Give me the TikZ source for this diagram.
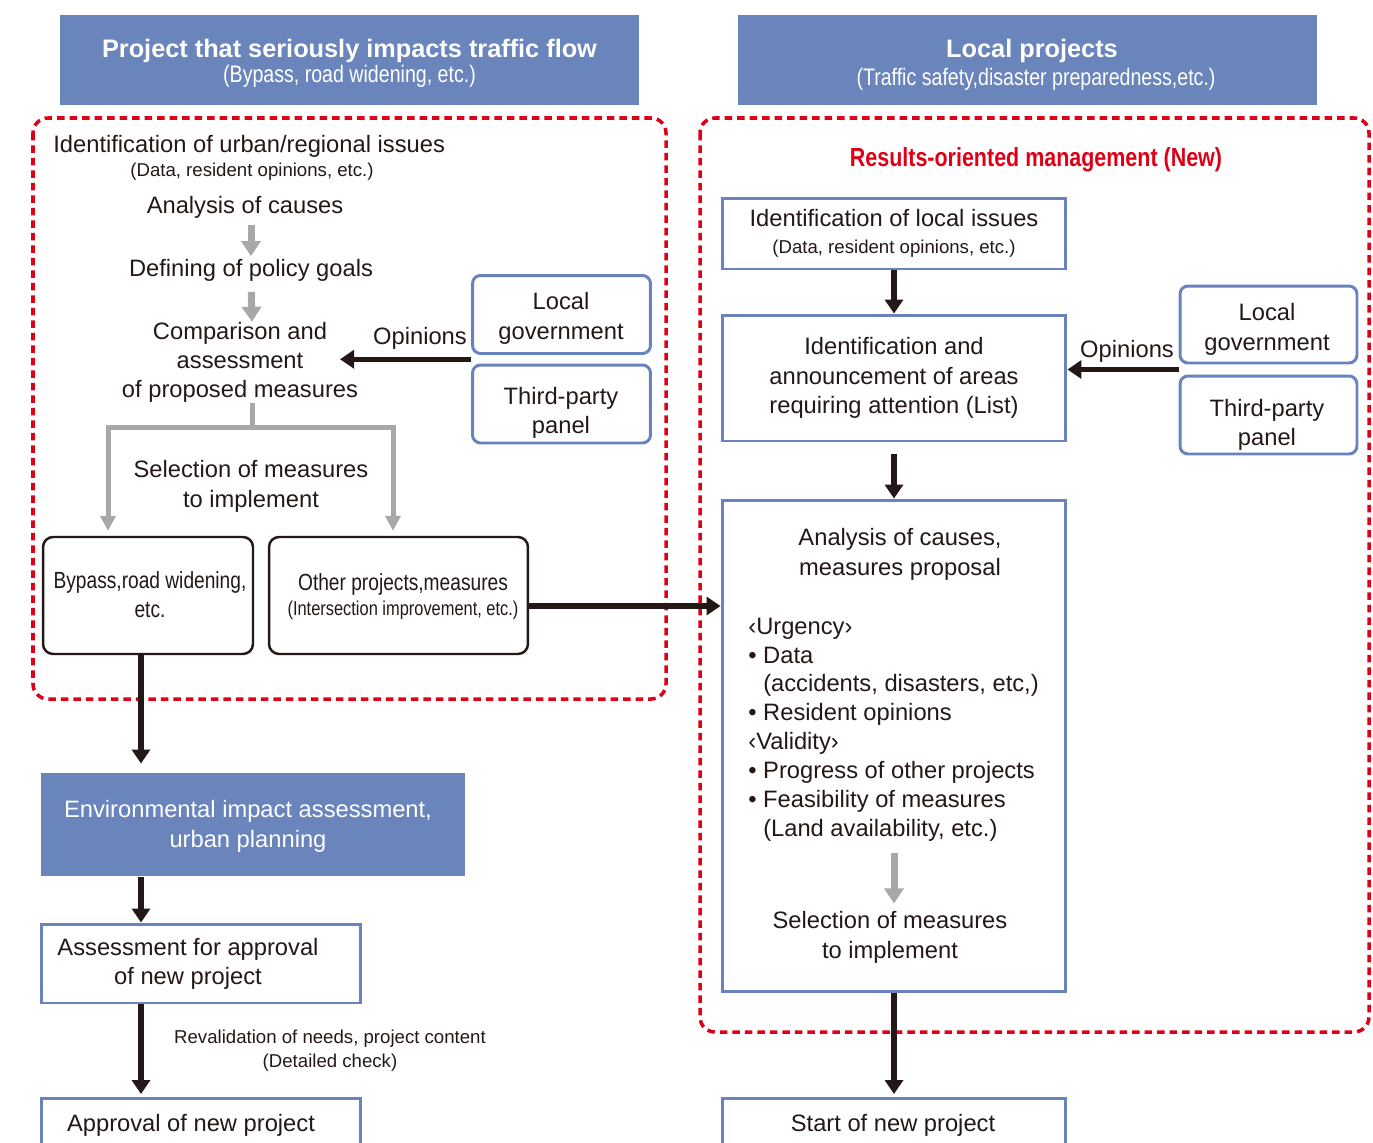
\documentclass[tikz,border=0pt]{standalone}
\usepackage{fontspec}
\setmainfont{Liberation Sans}
\newfontfamily\narrowfont[FakeStretch=0.82]{Liberation Sans}
\usetikzlibrary{arrows.meta,calc}

\definecolor{hdrblue}{RGB}{106,132,188}
\definecolor{lineblue}{RGB}{104,131,190}
\definecolor{frred}{RGB}{222,0,22}
\definecolor{arrgray}{RGB}{168,168,168}
\definecolor{txtblack}{RGB}{35,24,21}

\newcommand{\txtfont}{\fontsize{13.5}{16.7}\selectfont}
\newcommand{\txtsmall}{\fontsize{10.6}{13.4}\selectfont}
\newcommand{\txtnarrow}{\narrowfont\fontsize{13.3}{16.5}\selectfont}

\begin{document}
\begin{tikzpicture}[x=0.02cm, y=-0.02cm,
	txt/.style={font=\txtfont, text=txtblack, align=center, inner sep=0pt, yshift=-0.05cm},
	smalltxt/.style={font=\txtsmall, text=txtblack, align=center, inner sep=0pt, yshift=-0.05cm},
	header/.style={fill=hdrblue, minimum width=11.58cm, minimum height=1.8cm, inner sep=0pt},
	hdrtitle/.style={font=\fontsize{14.4}{17}\selectfont\bfseries, text=white, inner sep=0pt, yshift=-0.05cm},
	hdrsub/.style={font=\narrowfont\fontsize{13.6}{16}\selectfont, text=white, inner sep=0pt, yshift=-0.05cm},
	bluebox/.style={draw=lineblue, line width=1.7pt, fill=white, inner sep=0pt, align=center, font=\txtfont, text=txtblack},
	panelbox/.style={bluebox, rounded corners=0.16cm, minimum width=3.56cm, minimum height=1.56cm},
	blackbox/.style={draw=txtblack, line width=1.4pt, rounded corners=0.2cm, minimum height=2.34cm, inner sep=0pt, align=center, font=\txtnarrow, text=txtblack},
	frame/.style={draw=frred, line width=2pt, dash pattern=on 0.15cm off 0.1cm, rounded corners=0.3cm},
	blackarrow/.style={draw=txtblack, line width=0.11cm, -{Triangle[length=0.28cm, width=0.36cm]}},
	grayarrow/.style={draw=arrgray, line width=0.14cm, -{Triangle[length=0.3cm, width=0.38cm]}},
	treearrow/.style={draw=arrgray, line width=0.1cm, -{Triangle[length=0.3cm, width=0.3cm]}},
]
	\useasboundingbox (0, 0) rectangle (1373, 1143);
	\clip (0, 0) rectangle (1373, 1143);

	% headers
	\node[header] (hdrL) at (349.5, 60) {};
	\node[header] (hdrR) at (1027.5, 60) {};
	\node[hdrtitle] (titleL) at (349.5, 48) {Project that seriously impacts traffic flow};
	\node[hdrsub] (subL) at (349.5, 74) {(Bypass, road widening, etc.)};
	\node[hdrtitle] (titleR) at (1032, 48) {Local projects};
	\node[hdrsub] (subR) at (1036, 77) {(Traffic safety,disaster preparedness,etc.)};

	% dashed areas
	\draw[frame] (33, 118) rectangle (666, 699);
	\draw[frame] (700, 118) rectangle (1369, 1032);

	% left side
	\node[txt, anchor=west] (urban) at (53, 144) {Identification of urban/regional issues};
	\node[smalltxt] (urbandata) at (252, 169) {(Data, resident opinions, etc.)};
	\node[txt] (anc) at (245, 205) {Analysis of causes};
	\node[txt] (pol) at (251, 268) {Defining of policy goals};
	\node[txt] (comp) at (240, 360) {Comparison and\\assessment\\of proposed measures};
	\node[txt] (selL) at (251, 484) {Selection of measures\\to implement};

	\node[panelbox] (locgovL) at (561.5, 314.5) {};
	\node[panelbox] (thirdL) at (561.5, 404) {};
	\node[txt] (locgovLtxt) at (561, 316) {Local\\government};
	\node[txt] (thirdLtxt) at (561, 410.5) {Third-party\\panel};
	\node[txt] (opinL) at (420, 336) {Opinions};
	\coordinate (opL) at ($(locgovL.south west)!0.5!(thirdL.north west)$);
	\coordinate (compR) at (340, 357);

	\node[blackbox, minimum width=4.2cm] (bypass) at (148, 595.5) {};
	\node[txt, font=\txtnarrow] (bypasstxt) at (150, 592.5) {Bypass,road widening,\\etc.};
	\node[blackbox, minimum width=5.18cm] (other) at (398.5, 595.5) {};
	\node[txt, font=\txtnarrow] (othertxt) at (403, 594)
		{Other projects,measures\\[-2pt]{\narrowfont\fontsize{11.4}{14}\selectfont(Intersection improvement, etc.)}};

	\node[bluebox, draw=none, fill=hdrblue, minimum width=8.48cm, minimum height=2.06cm] (env) at (253, 824.5) {};
	\node[txt, text=white] (envtxt) at (248, 824) {Environmental impact assessment,\\urban planning};
	\node[bluebox, minimum width=6.4cm, minimum height=1.58cm] (assess) at (201, 963.5) {};
	\node[txt] (assesstxt) at (188, 961.5) {Assessment for approval\\of new project};
	\node[smalltxt] (reval) at (330, 1048) {Revalidation of needs, project content\\(Detailed check)};
	\node[bluebox, anchor=north, minimum width=6.4cm, minimum height=2cm] (approval) at (201, 1097) {};
	\node[txt] (approvaltxt) at (191, 1123) {Approval of new project};

	\draw[grayarrow, shorten <=0.12cm, shorten >=0.06cm] (anc.south -| pol.north) -- (pol.north);
	\draw[grayarrow, shorten <=0.2cm] (pol.south) -- ([xshift=0.24cm]comp.north);
	\draw[treearrow, shorten >=0.1cm] ([xshift=0.24cm]comp.south) -- ++(0, 24) -| ([xshift=-0.8cm]bypass.north);
	\draw[treearrow, shorten >=0.1cm] ([xshift=0.24cm]comp.south) -- ++(0, 24) -| ([xshift=-0.11cm]other.north);
	\draw[blackarrow] (opL) -- (opL -| compR);
	\draw[blackarrow, shorten >=0.16cm] ([xshift=-0.14cm]bypass.south) -- ([xshift=-0.14cm]bypass.south |- env.north);
	\draw[blackarrow] ([xshift=-1.2cm]env.south -| assess.north) -- ([xshift=-1.2cm]assess.north);
	\draw[blackarrow, shorten >=0.06cm] ([xshift=-1.2cm]assess.south) -- ([xshift=-1.2cm]approval.north);

	% right side
	\node[font=\narrowfont\fontsize{14.9}{17}\selectfont\bfseries, text=frred, inner sep=0pt, yshift=-0.05cm] (results) at (1036, 157)
		{Results-oriented management (New)};
	\node[bluebox, minimum width=6.88cm, minimum height=1.42cm] (issuesR) at (894, 233.5)
		{Identification of local issues\\[-1pt]{\txtsmall(Data, resident opinions, etc.)}};
	\node[bluebox, minimum width=6.88cm, minimum height=2.52cm] (areas) at (894, 378)
		{Identification and\\announcement of areas\\requiring attention (List)};
	\node[panelbox, minimum width=3.54cm, minimum height=1.54cm] (locgovR) at (1268.5, 324.5) {};
	\node[panelbox, minimum width=3.54cm] (thirdR) at (1268.5, 415) {};
	\node[txt] (locgovRtxt) at (1267, 327) {Local\\government};
	\node[txt] (thirdRtxt) at (1267, 422.5) {Third-party\\panel};
	\node[txt] (opinR) at (1127, 349) {Opinions};
	\coordinate (opR) at ($(locgovR.south west)!0.5!(thirdR.north west)$);

	\node[bluebox, minimum width=6.88cm, minimum height=9.84cm] (analysis) at (894, 746) {};
	\node[txt] (ancR) at (900, 552) {Analysis of causes,\\measures proposal};
	\node[txt, font=\fontsize{13.5}{16.4}\selectfont, align=left, anchor=west] (crit) at (748, 727)
		{‹Urgency›\\• Data\\\hphantom{• }(accidents, disasters, etc,)\\• Resident opinions\\‹Validity›\\%
		• Progress of other projects\\• Feasibility of measures\\\hphantom{• }(Land availability, etc.)};
	\node[txt] (selR) at (890, 935) {Selection of measures\\to implement};
	\node[bluebox, anchor=north, minimum width=6.88cm, minimum height=2cm] (start) at (894, 1097) {};
	\node[txt] (starttxt) at (893, 1123) {Start of new project};

	\draw[blackarrow] (issuesR.south) -- (areas.north);
	\draw[blackarrow, shorten <=0.24cm] (areas.south) -- (analysis.north);
	\draw[blackarrow] (opR) -- (opR -| areas.east);
	\draw[blackarrow] ([yshift=-0.21cm]other.east) -- ([yshift=-0.21cm]other.east -| analysis.west);
	\draw[grayarrow, shorten <=0.24cm, shorten >=0.16cm] (crit.south -| 894, 0) -- (selR.north -| 894, 0);
	\draw[blackarrow, shorten >=0.06cm] (analysis.south) -- (start.north);

\end{tikzpicture}
\end{document}
